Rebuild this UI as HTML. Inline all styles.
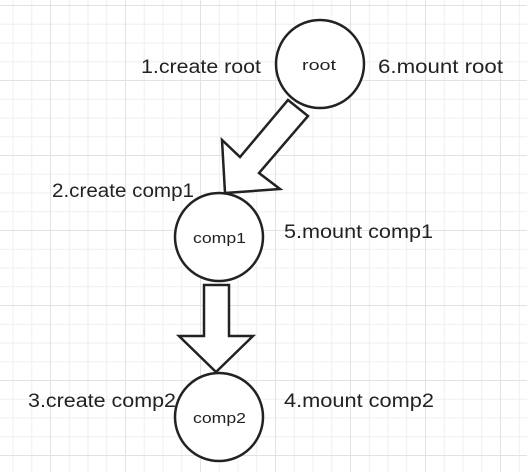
<!DOCTYPE html>
<html><head><style>
html,body{margin:0;padding:0;background:#fff;}
svg{display:block;}
text{font-family:"Liberation Sans","DejaVu Sans",sans-serif;fill:#222;}
</style></head><body>
<svg width="527" height="472" viewBox="0 0 527 472" xmlns="http://www.w3.org/2000/svg">
<defs>
<pattern id="g" x="-6.25" y="5" width="18.75" height="18.75" patternUnits="userSpaceOnUse">
<path d="M0 0.5H18.75M0.5 0V18.75" stroke="#efefef" stroke-width="1" fill="none"/>
</pattern>
<pattern id="G" x="-25" y="5" width="75" height="75" patternUnits="userSpaceOnUse">
<path d="M0 0.5H75M0.5 0V75" stroke="#e2e2e2" stroke-width="1" fill="none"/>
</pattern>
</defs>
<rect width="527" height="472" fill="url(#g)"/>
<rect width="527" height="472" fill="url(#G)"/>
<g fill="#fff" stroke="#222" stroke-width="2.5" stroke-linejoin="miter">
<circle cx="320" cy="64" r="44"/>
<circle cx="219" cy="237" r="44"/>
<circle cx="219" cy="417" r="44"/>
<polygon points="288,100 308,116 259,173 280,189 225,193 222,140 240,157"/>
<polygon points="204,285 229,285 229,336 253,336 216,372 179,336 204,336"/>
</g>
<g font-size="15" fill="#333">
<text x="302" y="70" textLength="34" lengthAdjust="spacingAndGlyphs">root</text>
<text x="193" y="243" textLength="53" lengthAdjust="spacingAndGlyphs">comp1</text>
<text x="193" y="423" textLength="53" lengthAdjust="spacingAndGlyphs">comp2</text>
</g>
<g font-size="19">
<text x="141" y="73" textLength="120" lengthAdjust="spacingAndGlyphs">1.create root</text>
<text x="378" y="73" textLength="125" lengthAdjust="spacingAndGlyphs">6.mount root</text>
<text x="52" y="197" textLength="142" lengthAdjust="spacingAndGlyphs">2.create comp1</text>
<text x="284" y="238" textLength="149" lengthAdjust="spacingAndGlyphs">5.mount comp1</text>
<text x="28" y="407" textLength="148" lengthAdjust="spacingAndGlyphs">3.create comp2</text>
<text x="284" y="407" textLength="150" lengthAdjust="spacingAndGlyphs">4.mount comp2</text>
</g>
</svg>
</body></html>
